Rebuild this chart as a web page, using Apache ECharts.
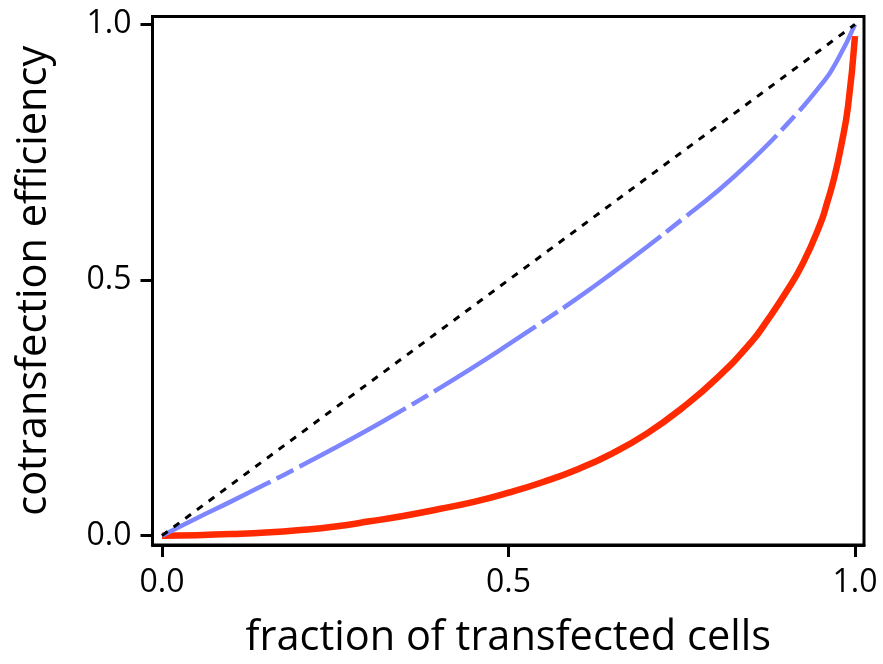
<!DOCTYPE html>
<html>
<head>
<meta charset="utf-8">
<script src="https://cdn.jsdelivr.net/npm/echarts@6/dist/echarts.min.js"></script>
<style>
html,body{margin:0;padding:0;background:#fff;}
#chart{width:883px;height:664px;}
</style>
</head>
<body>
<div id="chart"></div>
<script>
// ---- data ----
const tickValues = [0, 0.5, 1.0];

const identityX = [0, 1];
const identityY = [0, 1];

const blueX = [0, 0.05, 0.1, 0.15, 0.2, 0.25, 0.3, 0.35, 0.4, 0.45, 0.5, 0.55, 0.6, 0.65, 0.7, 0.75, 0.8, 0.85, 0.9, 0.95, 0.975, 1.0];
const blueY = [0, 0.034, 0.067, 0.101, 0.136, 0.172, 0.209, 0.248, 0.288, 0.330, 0.374, 0.419, 0.465, 0.514, 0.565, 0.618, 0.672, 0.733, 0.802, 0.880, 0.931, 1.0];

const redX = [0, 0.05, 0.1, 0.15, 0.2, 0.25, 0.3, 0.35, 0.4, 0.45, 0.5, 0.55, 0.6, 0.65, 0.7, 0.75, 0.8, 0.85, 0.875, 0.9, 0.925, 0.95, 0.96, 0.97, 0.98, 0.99, 1.0];
const redY = [0, 0.001, 0.003, 0.006, 0.011, 0.018, 0.028, 0.039, 0.052, 0.066, 0.084, 0.105, 0.130, 0.161, 0.200, 0.249, 0.307, 0.378, 0.424, 0.475, 0.533, 0.610, 0.652, 0.700, 0.762, 0.840, 0.977];

const xTitle = 'fraction of transfected cells';
const yTitle = 'cotransfection efficiency';

function pairs(xs, ys) { return xs.map((x, i) => [x, ys[i]]); }

const FONT = '"Open Sans", "Noto Sans", sans-serif';
const chart = echarts.init(document.getElementById('chart'), null, {renderer: 'canvas'});

const axisCommon = {
  type: 'value',
  splitLine: {show: false},
  axisLine: {show: true, onZero: false, lineStyle: {color: '#000', width: 3}},
  axisTick: {show: true, customValues: tickValues, length: 12, lineStyle: {color: '#000', width: 3}},
  axisLabel: {
    customValues: tickValues,
    color: '#000', fontSize: 32, fontFamily: FONT,
    formatter: v => v.toFixed(1)
  },
  nameLocation: 'middle',
  nameTextStyle: {color: '#000', fontSize: 41.5, fontFamily: FONT}
};

chart.setOption({
  animation: false,
  backgroundColor: '#fff',
  grid: {
    left: 152.5, top: 16.5, width: 711.5, height: 536,
    show: true, borderColor: '#000', borderWidth: 3, backgroundColor: 'transparent'
  },
  xAxis: Object.assign({}, axisCommon, {
    min: -0.0137, max: 1.013,
    name: xTitle, nameGap: 72,
    axisLabel: Object.assign({}, axisCommon.axisLabel, {margin: 22})
  }),
  yAxis: Object.assign({}, axisCommon, {
    min: -0.0183, max: 1.0154,
    name: yTitle, nameGap: 97,
    axisLabel: Object.assign({}, axisCommon.axisLabel, {margin: 21})
  }),
  series: [
    {
      type: 'line', data: pairs(redX, redY), smooth: 0.5,
      showSymbol: false, symbol: 'none', z: 2,
      lineStyle: {color: '#ff2a00', width: 6.5}
    },
    {
      type: 'line', data: pairs(blueX, blueY), smooth: 0.5,
      showSymbol: false, symbol: 'none', z: 3,
      lineStyle: {color: '#7d85ff', width: 4.5, type: [121, 7, 19, 7]}
    },
    {
      type: 'line', data: pairs(identityX, identityY),
      showSymbol: false, symbol: 'none', z: 4,
      lineStyle: {color: '#000', width: 3, type: [7, 7.5]}
    }
  ]
});
</script>
</body>
</html>
